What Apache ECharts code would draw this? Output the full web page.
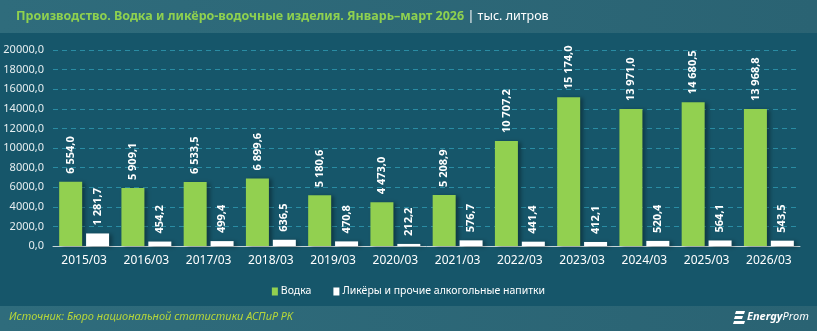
<!DOCTYPE html>
<html>
<head>
<meta charset="utf-8">
<script src="https://cdn.jsdelivr.net/npm/echarts@6/dist/echarts.min.js"></script>
<style>
  html, body { margin: 0; padding: 0; background: #16566a; }
  #chart { width: 817px; height: 331px; }
</style>
</head>
<body>
<div id="chart"></div>
<script>
// Production of vodka and liqueurs, January–March, thousand litres
const categories = ['2015/03', '2016/03', '2017/03', '2018/03', '2019/03', '2020/03',
  '2021/03', '2022/03', '2023/03', '2024/03', '2025/03', '2026/03'];
const vodka = [6554.0, 5909.1, 6533.5, 6899.6, 5180.6, 4473.0, 5208.9, 10707.2, 15174.0, 13971.0, 14680.5, 13968.8];
const liqueurs = [1281.7, 454.2, 499.4, 636.5, 470.8, 212.2, 576.7, 441.4, 412.1, 520.4, 564.1, 543.5];
const seriesNames = ['Водка', 'Ликёры и прочие алкогольные напитки'];
const yTicks = { min: 0, max: 20000, interval: 2000 };

const FONT = '"Noto Sans", "DejaVu Sans", sans-serif';

// "6 554,0" style: space thousands separator, comma decimal
function fmtLabel(v) {
  const parts = v.toFixed(1).split('.');
  const int = parts[0].replace(/\B(?=(\d{3})+(?!\d))/g, ' ');
  return int + ',' + parts[1];
}
function fmtAxis(v) {
  return v.toFixed(1).replace('.', ',');
}

const chart = echarts.init(document.getElementById('chart'), null, { renderer: 'canvas' });

const barLabel = {
  show: true,
  position: 'top',
  rotate: 90,
  align: 'left',
  verticalAlign: 'middle',
  distance: 8,
  color: '#ffffff',
  fontFamily: FONT,
  fontWeight: 'bold',
  fontSize: 11,
  formatter: p => fmtLabel(p.value)
};
const shadow = {
  shadowColor: 'rgba(0,0,0,0.35)',
  shadowBlur: 4,
  shadowOffsetX: 3,
  shadowOffsetY: 1
};

const bandFill = () => new echarts.graphic.LinearGradient(0, 0, 1, 0, [
  { offset: 0, color: '#2f6c7c' }, { offset: 1, color: '#2a6373' }
]);

chart.setOption({
  backgroundColor: '#16566a',
  animation: false,
  textStyle: { fontFamily: FONT },
  graphic: [
    { type: 'rect', left: 0, top: 0, z: -1, shape: { width: 817, height: 33 }, style: { fill: bandFill() } },
    {
      type: 'text', left: 16, top: 10,
      style: {
        text: '{t|Производство. Водка и ликёро-водочные изделия. Январь–март 2026} {s|| тыс. литров}',
        rich: {
          t: { fill: '#8fd14f', fontWeight: 'bold', fontSize: 12.5, fontFamily: FONT },
          s: { fill: '#ffffff', fontSize: 12.5, fontFamily: FONT }
        }
      }
    },
    { type: 'rect', left: 0, top: 306, z: -1, shape: { width: 817, height: 25 }, style: { fill: bandFill() } },
    {
      type: 'text', left: 9, top: 311,
      style: {
        text: 'Источник: Бюро национальной статистики АСПиР РК',
        fill: '#b6d63a', fontStyle: 'italic', fontSize: 11, fontFamily: FONT
      }
    },
    // EnergyProm logo mark: three slanted stripes
    {
      type: 'group', left: 733, top: 311,
      children: [
        { type: 'polygon', shape: { points: [[2, 0], [11, 0], [10, 3], [1, 3]] }, style: { fill: '#ffffff' } },
        { type: 'polygon', shape: { points: [[1, 5], [9, 5], [8, 8], [0, 8]] }, style: { fill: '#ffffff' } },
        { type: 'polygon', shape: { points: [[0, 10], [11, 10], [10, 13], [-1, 13]] }, style: { fill: '#ffffff' } }
      ]
    },
    {
      type: 'text', left: 747, top: 311,
      style: {
        text: '{a|Energy}{b|Prom}',
        rich: {
          a: { fill: '#ffffff', fontStyle: 'italic', fontWeight: 'bold', fontSize: 11, fontFamily: FONT },
          b: { fill: '#ffffff', fontStyle: 'italic', fontSize: 11, fontFamily: FONT }
        }
      }
    }
  ],
  legend: {
    top: 281,
    left: 'center',
    itemWidth: 6,
    itemHeight: 8,
    itemGap: 22,
    icon: 'rect',
    textStyle: { color: '#ffffff', fontSize: 10.5, fontFamily: FONT, padding: [0, 0, 0, -2] },
    data: seriesNames
  },
  grid: { left: 53, right: 17, top: 50, bottom: 85, containLabel: false },
  xAxis: {
    type: 'category',
    data: categories,
    axisLine: { show: true, lineStyle: { color: '#c8d6da', width: 1 } },
    axisTick: { show: false },
    axisLabel: { color: '#ffffff', fontSize: 12, margin: 9, fontFamily: FONT }
  },
  yAxis: {
    type: 'value',
    min: yTicks.min,
    max: yTicks.max,
    interval: yTicks.interval,
    axisLine: { show: false },
    axisTick: { show: false },
    axisLabel: { color: '#e6eef0', fontSize: 11, margin: 9, fontFamily: FONT, formatter: fmtAxis },
    splitLine: { lineStyle: { color: '#2a8ca3', type: [5, 4], width: 1 } }
  },
  series: [
    {
      name: seriesNames[0],
      type: 'bar',
      data: vodka,
      barWidth: 23,
      barGap: '17%',
      itemStyle: Object.assign({ color: '#92d050' }, shadow),
      label: barLabel
    },
    {
      name: seriesNames[1],
      type: 'bar',
      data: liqueurs,
      barWidth: 23,
      itemStyle: Object.assign({ color: '#ffffff' }, shadow),
      label: barLabel
    }
  ]
});
</script>
</body>
</html>
